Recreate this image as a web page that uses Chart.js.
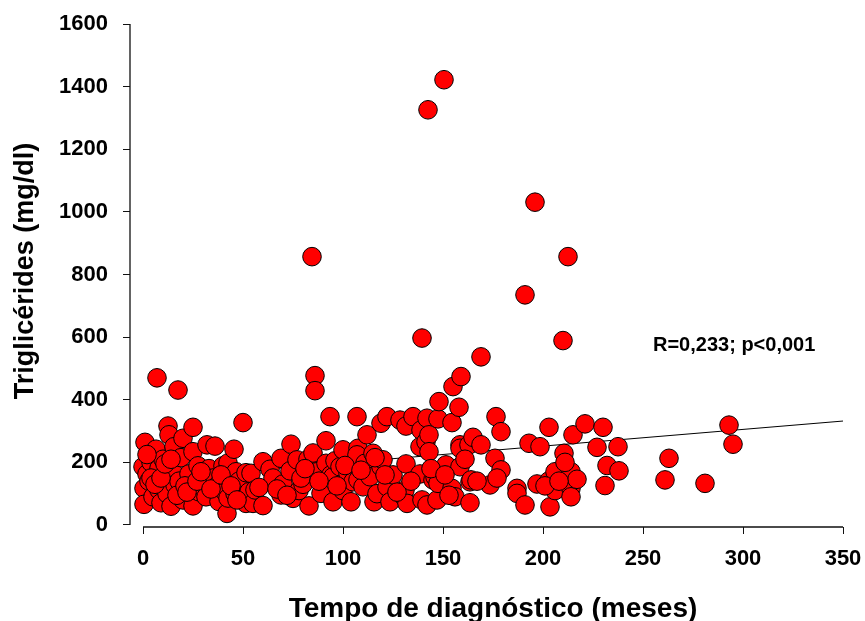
<!DOCTYPE html>
<html lang="pt">
<head>
    <meta charset="UTF-8">
    <title>Triglicérides x Tempo de diagnóstico</title>
    <script src="https://cdn.jsdelivr.net/npm/chart.js"></script>
    <style>
        body { margin: 0; background: #fff; }
        canvas { display: block; }
    </style>
</head>
<body>
    <canvas id="tgChart" width="865" height="621"></canvas>
    <script>
        // tempo de diagnóstico (meses) e triglicérides (mg/dl)
        const months = [
            0, 0.5, 0.5, 1, 2, 3, 4, 5, 6.5, 7, 8, 8, 9, 10, 12, 12.5, 13, 14, 15.5, 15.5,
            16, 17.5, 18, 19, 20, 20, 23, 24, 25, 25, 25, 27.5, 28, 30, 31.5, 32, 33, 35, 36, 37.5,
            38, 40, 41, 42, 42.5, 42.5, 45.5, 46, 46.5, 48, 50, 51.5, 51.5, 53, 54, 55, 56, 60, 60, 63.5,
            65, 69, 69, 70, 73.5, 74, 75, 77, 78, 80, 82.5, 83, 84.5, 85, 86, 86, 87, 89, 91.5, 91.5,
            93.5, 94, 95, 95, 96, 98.5, 100, 100, 102.5, 104, 105, 107, 107, 107.5, 107.5, 107, 110, 111, 112, 113.5,
            115, 115.5, 117, 119, 119, 120, 122, 122, 123.5, 125, 128.5, 130.5, 131, 131.5, 131.5, 132, 135, 138.5, 138.5, 139,
            139.5, 139.5, 141.5, 142, 142, 142.5, 143, 143, 145, 146, 147, 147.5, 147.5, 148, 150.5, 151.5, 154.5, 154.5, 155, 156,
            158, 158.5, 158.5, 158.5, 159, 163, 163.5, 163.5, 164, 165, 169, 169, 173.5, 176, 176.5, 179, 179, 187, 187, 191,
            191, 193, 196, 197, 198.5, 203, 203, 203.5, 206, 206, 210, 210.5, 212.5, 214, 214, 214, 215, 217, 221, 227,
            230, 231, 232, 237.5, 238, 261, 263, 281, 293, 295,
            2, 4, 6, 9, 11, 14, 17, 21, 22, 27, 29, 34, 39, 44, 47, 58, 67, 72, 79, 81,
            88, 97, 101, 109, 116, 121, 127, 134, 144, 151, 153, 161, 167, 177, 201, 208, 211
        ];
        const triglycerides = [
            186, 117, 66, 264, 163, 140, 200, 90, 242, 470, 181, 112, 71, 210, 100, 316, 288, 60, 250, 165,
            128, 431, 140, 215, 277, 80, 163, 115, 312, 234, 61, 189, 106, 120, 90, 256, 180, 150, 252, 128,
            75, 189, 106, 37, 198, 86, 242, 101, 170, 140, 327, 167, 69, 106, 165, 69, 112, 202, 62, 178,
            150, 213, 96, 131, 173, 258, 85, 208, 110, 130, 210, 61, 857, 230, 477, 429, 170, 101, 197, 269,
            346, 160, 154, 74, 205, 186, 110, 240, 165, 74, 138, 346, 190, 144, 245, 224, 122, 197, 288, 154,
            229, 74, 100, 186, 325, 208, 122, 346, 74, 160, 335, 90, 112, 316, 195, 69, 346, 250, 163, 303,
            597, 80, 266, 341, 64, 1326, 288, 234, 144, 154, 80, 339, 133, 394, 1422, 192, 327, 117, 442, 90,
            376, 256, 186, 245, 474, 256, 71, 138, 144, 280, 256, 537, 128, 213, 346, 298, 176, 117, 101, 64,
            735, 261, 1031, 131, 250, 312, 141, 58, 170, 110, 589, 229, 857, 170, 117, 90, 288, 146, 323, 248,
            312, 126, 190, 250, 173, 144, 213, 133, 319, 258,
            225, 150, 130, 150, 195, 210, 95, 125, 105, 140, 170, 115, 160, 125, 80, 120, 115, 95, 150, 180,
            140, 125, 190, 175, 215, 160, 105, 140, 180, 160, 95, 210, 140, 150, 125, 140, 200
        ];

        // reta de regressão (extremos)
        const fitMonths = [0, 350];
        const fitValues = [145, 332];

        const xTicks = [0, 50, 100, 150, 200, 250, 300, 350];
        const yTicks = [0, 200, 400, 600, 800, 1000, 1200, 1400, 1600];

        const statsText = 'R=0,233; p<0,001';
        const xTitle = 'Tempo de diagnóstico (meses)';
        const yTitle = 'Triglicérides (mg/dl)';

        const fontFamily = '"Liberation Sans", Arial, sans-serif';

        // eixos desenhados só entre o primeiro e o último valor, como no original
        const axisAndText = {
            id: 'axisAndText',
            afterDraw(chart) {
                const { ctx, chartArea, scales: { x, y } } = chart;
                ctx.save();
                ctx.strokeStyle = '#111';
                ctx.lineWidth = 1.3;
                ctx.beginPath();
                ctx.moveTo(chartArea.left, y.getPixelForValue(yTicks[0]));
                ctx.lineTo(chartArea.left, y.getPixelForValue(yTicks[yTicks.length - 1]));
                ctx.moveTo(x.getPixelForValue(xTicks[0]), chartArea.bottom);
                ctx.lineTo(x.getPixelForValue(xTicks[xTicks.length - 1]), chartArea.bottom);
                ctx.stroke();

                ctx.fillStyle = '#000';
                ctx.font = 'bold 20px ' + fontFamily;
                ctx.textAlign = 'left';
                ctx.textBaseline = 'alphabetic';
                ctx.fillText(statsText, x.getPixelForValue(255), y.getPixelForValue(555));

                ctx.font = 'bold 28px ' + fontFamily;
                ctx.textAlign = 'center';
                ctx.fillText(xTitle, 493, 617);

                ctx.translate(33, 271);
                ctx.rotate(-Math.PI / 2);
                ctx.font = 'bold 27px ' + fontFamily;
                ctx.fillText(yTitle, 0, 0);
                ctx.restore();
            }
        };

        const ctx = document.getElementById('tgChart').getContext('2d');
        const tgChart = new Chart(ctx, {
            data: {
                datasets: [{
                    type: 'scatter',
                    data: months.map((m, i) => ({ x: m, y: triglycerides[i] })),
                    backgroundColor: '#ff0000',
                    borderColor: '#000',
                    borderWidth: 1,
                    pointRadius: 9.3,
                    order: 0
                }, {
                    type: 'line',
                    data: fitMonths.map((m, i) => ({ x: m, y: fitValues[i] })),
                    borderColor: '#000',
                    borderWidth: 1,
                    pointRadius: 0,
                    fill: false,
                    order: 1
                }]
            },
            options: {
                responsive: false,
                animation: false,
                devicePixelRatio: 1,
                layout: { padding: { top: 24, right: 22, left: 0, bottom: 0 } },
                plugins: {
                    legend: { display: false },
                    tooltip: { enabled: false }
                },
                scales: {
                    x: {
                        type: 'linear',
                        min: -6.5,
                        max: 350,
                        afterBuildTicks: s => { s.ticks = xTicks.map(v => ({ value: v })); },
                        afterFit: s => {
                            s.height = 94;
                            s.paddingLeft = 0;
                            s.paddingRight = 0;
                        },
                        border: { display: false },
                        grid: { drawOnChartArea: false, color: '#111', tickLength: 7 },
                        ticks: {
                            color: '#000',
                            padding: 12,
                            maxRotation: 0,
                            callback: v => String(v),
                            font: { family: fontFamily, size: 22, weight: 'bold' }
                        }
                    },
                    y: {
                        type: 'linear',
                        min: -6.4,
                        max: 1600,
                        afterBuildTicks: s => { s.ticks = yTicks.map(v => ({ value: v })); },
                        afterFit: s => {
                            s.width = 130;
                            s.paddingTop = 0;
                            s.paddingBottom = 0;
                        },
                        border: { display: false },
                        grid: { drawOnChartArea: false, color: '#111', tickLength: 7 },
                        ticks: {
                            color: '#000',
                            padding: 15,
                            callback: v => String(v),
                            font: { family: fontFamily, size: 22, weight: 'bold' }
                        }
                    }
                }
            },
            plugins: [axisAndText]
        });
    </script>
</body>
</html>
